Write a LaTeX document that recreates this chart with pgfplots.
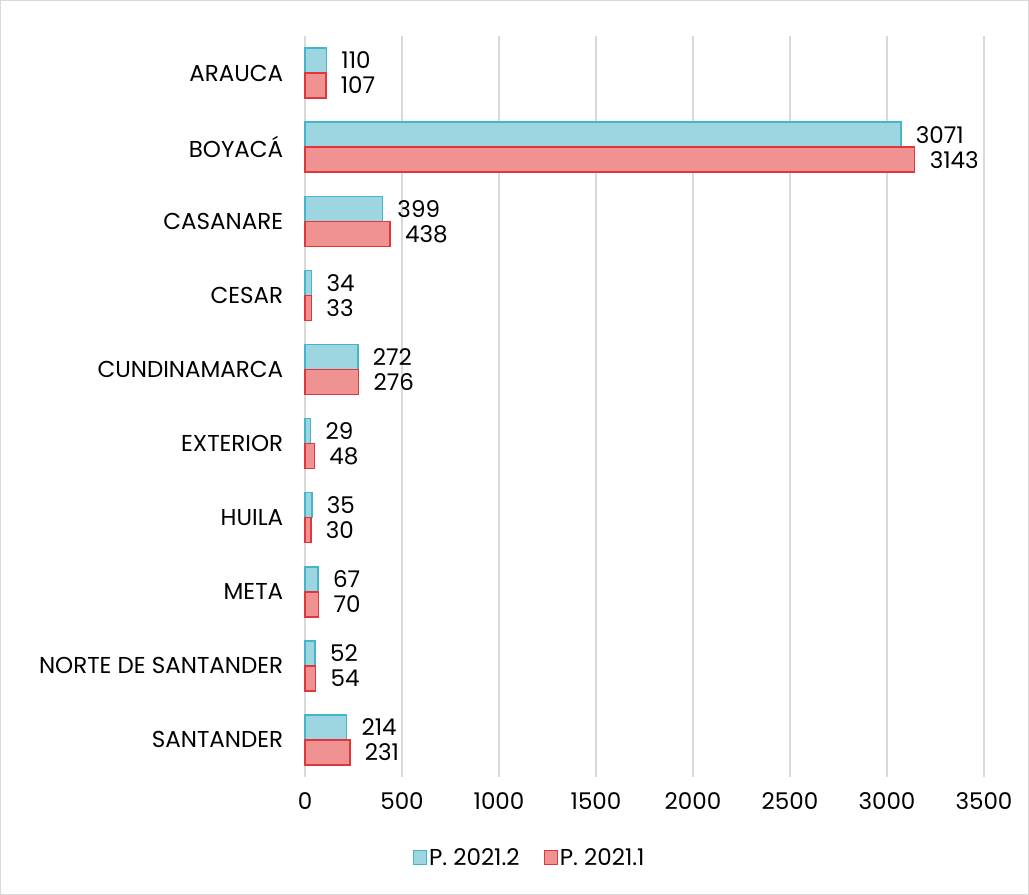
\documentclass[border=0pt]{standalone}
\usepackage{pgfplots}
\pgfplotsset{compat=1.18}
\usepackage{fontspec}
\setmainfont{Poppins}
\definecolor{bluefill}{HTML}{9DD5E1}
\definecolor{blueedge}{HTML}{45B5C9}
\definecolor{redfill}{HTML}{F19292}
\definecolor{rededge}{HTML}{E0373C}
\definecolor{gridc}{HTML}{D9D9D9}
\begin{document}
\begin{tikzpicture}[x=1pt,y=1pt]
\draw[gridc, line width=1pt] (0.5,0.5) rectangle (1028.5,894.5);
\begin{axis}[
  at={(305pt,118pt)}, anchor=south west,
  scale only axis, width=679pt, height=741pt,
  xmin=0, xmax=3500, ymin=-0.5, ymax=9.5,
  y dir=reverse,
  xtick={0,500,...,3500},
  ytick={0,...,9},
  yticklabels={ARAUCA,BOYACÁ,CASANARE,CESAR,CUNDINAMARCA,EXTERIOR,HUILA,META,NORTE DE SANTANDER,SANTANDER},
  xmajorgrids, major grid style={gridc, line width=1.5pt},
  axis line style={draw=none},
  tick style={draw=none},
  xticklabel style={font=\fontsize{23}{26}\selectfont, yshift=-12pt},
  yticklabel style={font=\fontsize{23}{26}\selectfont, xshift=-14pt},
  /pgf/number format/assume math mode=true,
  /pgf/number format/1000 sep={},
  xbar, bar width=25pt,
  nodes near coords,
  nodes near coords style={font=\fontsize{23}{26}\selectfont, anchor=west, xshift=11pt, text=black},
  legend style={at={(rel axis cs:0.331,-0.109)}, anchor=center, draw=none, legend columns=2,
     font=\fontsize{23}{26}\selectfont, /tikz/every even column/.append style={column sep=22pt}},
  clip=false,
]
\addplot[bar shift=12.5pt, draw=blueedge, line width=1.5pt, fill=bluefill,
  legend image code/.code={\draw[draw=blueedge,line width=1.2pt,fill=bluefill] (0pt,-7pt) rectangle (13pt,7pt);}]
  coordinates {(110,0) (3071,1) (399,2) (34,3) (272,4) (29,5) (35,6) (67,7) (52,8) (214,9)};
\addplot[bar shift=-12.5pt, draw=rededge, line width=1.5pt, fill=redfill,
  legend image code/.code={\draw[draw=rededge,line width=1.2pt,fill=redfill] (0pt,-7pt) rectangle (13pt,7pt);}]
  coordinates {(107,0) (3143,1) (438,2) (33,3) (276,4) (48,5) (30,6) (70,7) (54,8) (231,9)};
\legend{P. 2021.2, P. 2021.1}
\end{axis}
\end{tikzpicture}
\end{document}
